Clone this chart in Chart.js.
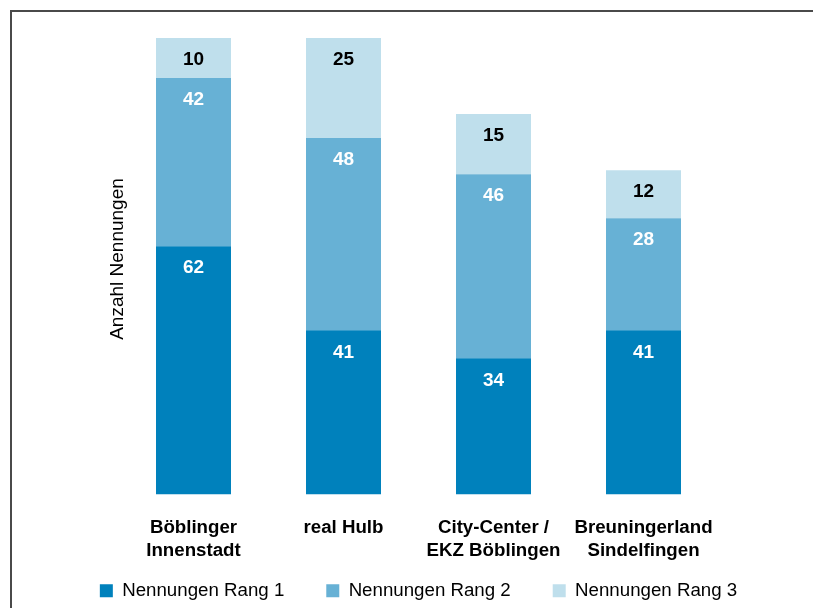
<!DOCTYPE html>
<html>
<head>
<meta charset="utf-8">
<script src="https://cdn.jsdelivr.net/npm/chart.js@4"></script>
<style>
  html, body { margin: 0; padding: 0; background: #fff; overflow: hidden; }
  #frame { position: absolute; left: 10px; top: 10px; width: 900px; height: 700px;
           border-left: 2px solid #4a4a4a; border-top: 2px solid #4a4a4a; }
  #wrap { position: absolute; left: 0; top: 0; width: 813px; height: 608px; }
</style>
</head>
<body>
<div id="frame"></div>
<div id="wrap"><canvas id="chart" width="813" height="608"></canvas></div>
<script>
// Categories and values
const categories = [
  ['Böblinger', 'Innenstadt'],
  ['real Hulb'],
  ['City-Center /', 'EKZ Böblingen'],
  ['Breuningerland', 'Sindelfingen']
];
const rang1 = [62, 41, 34, 41];
const rang2 = [42, 48, 46, 28];
const rang3 = [10, 25, 15, 12];
const seriesNames = ['Nennungen Rang 1', 'Nennungen Rang 2', 'Nennungen Rang 3'];

const FONT = "'Liberation Sans', Arial, sans-serif";

// Labels inside each segment, near its top
const segmentLabels = {
  id: 'segmentLabels',
  afterDatasetsDraw(chart) {
    const ctx = chart.ctx;
    ctx.save();
    ctx.font = 'bold 19px ' + FONT;
    ctx.textAlign = 'center';
    ctx.textBaseline = 'middle';
    chart.data.datasets.forEach((ds, i) => {
      const meta = chart.getDatasetMeta(i);
      ctx.fillStyle = i === 2 ? '#000' : '#fff';
      meta.data.forEach((bar, j) => {
        ctx.fillText(String(ds.data[j]), bar.x, bar.y + 22);
      });
    });
    ctx.restore();
  }
};

// Rotated axis title on the left
const yTitle = {
  id: 'yTitle',
  afterDraw(chart) {
    const ctx = chart.ctx;
    ctx.save();
    ctx.font = '19px ' + FONT;
    ctx.fillStyle = '#000';
    ctx.textAlign = 'center';
    ctx.textBaseline = 'middle';
    ctx.translate(118, 259);
    ctx.rotate(-Math.PI / 2);
    ctx.fillText('Anzahl Nennungen', 0, 0);
    ctx.restore();
  }
};

// move the legend row down to the bottom edge
const legendPlace = {
  id: 'legendPlace',
  afterLayout(chart) {
    const lg = chart.legend;
    lg.top = 539.5;
    lg.bottom = 608;
  }
};

const spacer = w => function (scale) { scale.width = w; };

new Chart(document.getElementById('chart'), {
  type: 'bar',
  data: {
    labels: categories,
    datasets: [
      { label: seriesNames[0], data: rang1, backgroundColor: '#0081bc' },
      { label: seriesNames[1], data: rang2, backgroundColor: '#67b1d5' },
      { label: seriesNames[2], data: rang3, backgroundColor: '#bfdfec' }
    ]
  },
  options: {
    responsive: false,
    animation: false,
    barPercentage: 1,
    categoryPercentage: 0.5,
    layout: { padding: { left: 24, right: 0, top: 38, bottom: 0 } },
    scales: {
      x: {
        stacked: true,
        grid: { display: false, drawTicks: false },
        border: { display: false },
        ticks: {
          color: '#000',
          padding: 21.5,
          maxRotation: 0,
          autoSkip: false,
          font: { family: FONT, size: 18.7, weight: 'bold', lineHeight: 1.23 }
        }
      },
      y: {
        stacked: true,
        min: 0,
        max: 114,
        grid: { display: false },
        border: { display: false },
        ticks: { display: false },
        afterFit: spacer(94.5)
      },
      yRight: {
        position: 'right',
        min: 0,
        max: 114,
        grid: { display: false },
        border: { display: false },
        ticks: { display: false },
        afterFit: spacer(94.5)
      }
    },
    plugins: {
      legend: {
        position: 'bottom',
        maxHeight: 24.5,
        labels: {
          color: '#000',
          boxWidth: 13,
          boxHeight: 13,
          padding: 42,
          font: { family: FONT, size: 18.7, lineHeight: 1.23 }
        }
      },
      tooltip: { enabled: false }
    }
  },
  plugins: [segmentLabels, yTitle, legendPlace]
});
</script>
</body>
</html>
